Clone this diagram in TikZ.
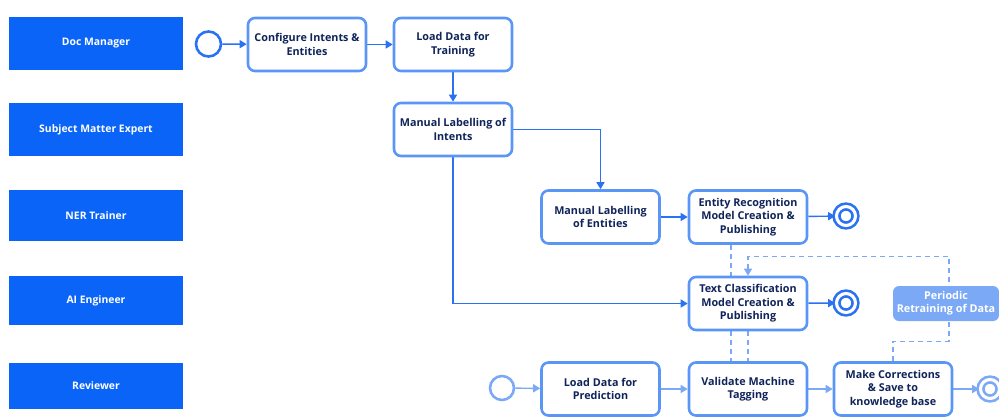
\documentclass[tikz,border=0pt]{standalone}
\usepackage{fontspec}
\setmainfont{Open Sans}
\usepackage{xcolor}
\usepackage{tikz}
\usetikzlibrary{arrows.meta}
\definecolor{lanefill}{HTML}{0A64F7}
\definecolor{boxline}{HTML}{5A96F5}
\definecolor{edgeblue}{HTML}{2A72F2}
\definecolor{paleblue}{HTML}{7BA9F6}
\definecolor{navy}{HTML}{10245A}
\tikzstyle{lane}=[fill=lanefill, draw=none, text=white, minimum width=174pt, inner sep=0pt, font=\bfseries\fontsize{10.4}{12}\selectfont]
\tikzstyle{task}=[fill=white, draw=boxline, line width=2.6pt, rounded corners=7pt, minimum width=118pt, minimum height=53pt, inner sep=0pt, align=center, text=navy, font=\bfseries\fontsize{10.8}{13.5}\selectfont]
\tikzstyle{note}=[fill=paleblue, draw=none, rounded corners=6pt, minimum width=106pt, minimum height=35pt, inner sep=0pt, align=center, text=white, font=\bfseries\fontsize{10.8}{13}\selectfont]
\tikzstyle{start event}=[circle, draw=edgeblue, line width=2.6pt, minimum size=25pt, inner sep=0pt, fill=white]
\tikzstyle{end event}=[circle, draw=edgeblue, line width=2.6pt, double=white, double distance=3.1pt, minimum size=19pt, inner sep=0pt]
\tikzstyle{flow}=[-{Triangle[length=7pt, width=8pt]}, draw=edgeblue, line width=1.4pt]
\tikzstyle{pale flow}=[-{Triangle[length=7pt, width=8pt]}, draw=paleblue, line width=1.4pt]
\tikzstyle{dashed edge}=[draw=paleblue, line width=1.3pt, dash pattern=on 5pt off 4pt]
\pgfdeclarelayer{nodelayer}
\pgfdeclarelayer{edgelayer}
\pgfsetlayers{edgelayer,nodelayer,main}

\begin{document}
\begin{tikzpicture}[x=1pt, y=-1pt]
        	\useasboundingbox (0, 0) rectangle (999, 416);
        	\begin{pgfonlayer}{nodelayer}
        		\node [style=lane, minimum height=53pt] (0) at (96, 43.5) {Doc Manager};
        		\node [style=lane, minimum height=53pt] (1) at (96, 129.5) {Subject Matter Expert};
        		\node [style=lane, minimum height=51pt] (2) at (96, 215.5) {NER Trainer};
        		\node [style=lane, minimum height=49pt] (3) at (96, 300.5) {AI Engineer};
        		\node [style=lane, minimum height=46pt] (4) at (96, 386) {Reviewer};
        		\node [style=start event] (5) at (208.5, 44) {};
        		\node [style=task] (6) at (307, 44.5) {Configure Intents \&\\Entities};
        		\node [style=task] (7) at (453, 44.5) {Load Data for\\Training};
        		\node [style=task] (8) at (453, 129.5) {Manual Labelling of\\Intents};
        		\node [style=task] (9) at (600.5, 217) {Manual Labelling\\of Entities};
        		\node [style=task] (10) at (748, 217) {Entity Recognition\\Model Creation \&\\Publishing};
        		\node [style=end event] (11) at (846, 216) {};
        		\node [style=task] (12) at (748, 303.5) {Text Classification\\Model Creation \&\\Publishing};
        		\node [style=end event] (13) at (846, 303) {};
        		\node [style=note] (14) at (946, 303.5) {Periodic\\Retraining of Data};
        		\node [style=start event, draw=paleblue, minimum size=24pt] (15) at (502, 388) {};
        		\node [style=task] (16) at (600.5, 389) {Load Data for\\Prediction};
        		\node [style=task] (17) at (748, 389) {Validate Machine\\Tagging};
        		\node [style=task] (18) at (893, 389) {Make Corrections\\\& Save to\\knowledge base};
        		\node [style=end event, draw=paleblue] (19) at (990, 389) {};
        	\end{pgfonlayer}
        	\begin{pgfonlayer}{edgelayer}
        		\draw [style=flow] (5) to (6);
        		\draw [style=flow] (6) to (7);
        		\draw [style=flow] (7) to (8);
        		\draw [style=flow] (8.east) -| (9.north);
        		\draw [style=flow] (8.south) |- (12.west);
        		\draw [style=flow] (9) to (10);
        		\draw [style=flow] (10) to (11);
        		\draw [style=flow] (12) to (13);
        		\draw [style=pale flow] (15) to (16);
        		\draw [style=pale flow] (16) to (17);
        		\draw [style=pale flow] (17) to (18);
        		\draw [style=pale flow] (18) to (19);
        		\draw [style=dashed edge] ([xshift=-17pt]10.south) to ([xshift=-17pt]12.north);
        		\draw [style=dashed edge] ([xshift=-17pt]12.south) to ([xshift=-17pt]17.north);
        		\draw [style=dashed edge] (12.south) to (17.north);
        		\draw [style=dashed edge, -{Triangle[length=7pt, width=8pt]}] (18.north) -- ++(0, -20) -| ([xshift=3pt]14.north) |- ([yshift=19pt]12.north) -- (12.north);
        	\end{pgfonlayer}
        \end{tikzpicture}
\end{document}
